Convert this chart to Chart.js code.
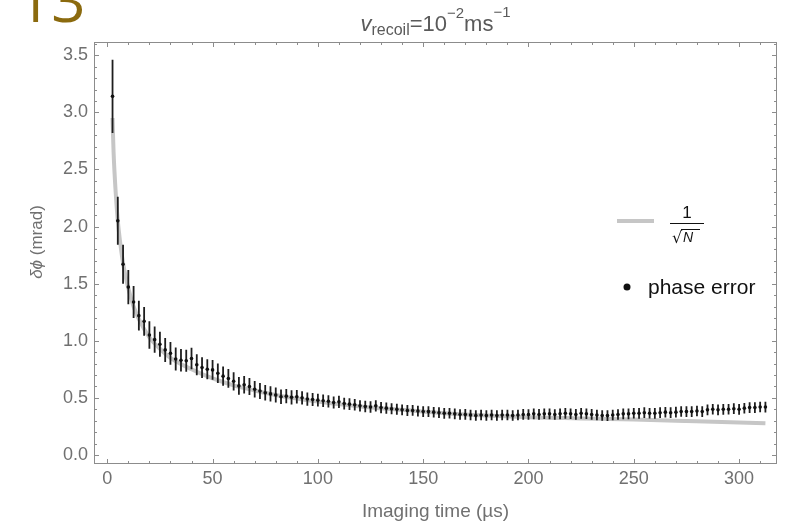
<!DOCTYPE html>
<html>
<head>
<meta charset="utf-8">
<title>Phase error vs imaging time</title>
<script src="https://cdn.jsdelivr.net/npm/chart.js@4.4.1/dist/chart.umd.min.js"></script>
<style>
  body { margin: 0; background: #ffffff; }
  #wrap { width: 785px; height: 525px; }
</style>
</head>
<body>
<div id="wrap"><canvas id="grafico" width="785" height="525"></canvas></div>
<script>
// 1. Data
const times = [
  2.5, 5, 7.5, 10, 12.5, 15, 17.5, 20, 22.5, 25,
  27.5, 30, 32.5, 35, 37.5, 40, 42.5, 45, 47.5, 50,
  52.5, 55, 57.5, 60, 62.5, 65, 67.5, 70, 72.5, 75,
  77.5, 80, 82.5, 85, 87.5, 90, 92.5, 95, 97.5, 100,
  102.5, 105, 107.5, 110, 112.5, 115, 117.5, 120, 122.5, 125,
  127.5, 130, 132.5, 135, 137.5, 140, 142.5, 145, 147.5, 150,
  152.5, 155, 157.5, 160, 162.5, 165, 167.5, 170, 172.5, 175,
  177.5, 180, 182.5, 185, 187.5, 190, 192.5, 195, 197.5, 200,
  202.5, 205, 207.5, 210, 212.5, 215, 217.5, 220, 222.5, 225,
  227.5, 230, 232.5, 235, 237.5, 240, 242.5, 245, 247.5, 250,
  252.5, 255, 257.5, 260, 262.5, 265, 267.5, 270, 272.5, 275,
  277.5, 280, 282.5, 285, 287.5, 290, 292.5, 295, 297.5, 300,
  302.5, 305, 307.5, 310, 312.5
];
const phaseError = [
  3.14, 2.05, 1.67, 1.47, 1.34, 1.22, 1.17, 1.05, 1.01, 0.97,
  0.92, 0.89, 0.84, 0.83, 0.825, 0.845, 0.79, 0.765, 0.75, 0.745,
  0.715, 0.69, 0.67, 0.645, 0.605, 0.615, 0.60, 0.575, 0.56, 0.545,
  0.535, 0.525, 0.51, 0.515, 0.505, 0.51, 0.50, 0.49, 0.485, 0.48,
  0.475, 0.47, 0.46, 0.465, 0.45, 0.445, 0.44, 0.43, 0.425, 0.42,
  0.43, 0.415, 0.41, 0.405, 0.40, 0.395, 0.39, 0.39, 0.385, 0.38,
  0.38, 0.375, 0.37, 0.365, 0.365, 0.36, 0.355, 0.355, 0.35, 0.345,
  0.35, 0.345, 0.35, 0.345, 0.35, 0.35, 0.345, 0.35, 0.355, 0.355,
  0.36, 0.355, 0.36, 0.36, 0.355, 0.36, 0.365, 0.36, 0.355, 0.365,
  0.36, 0.355, 0.35, 0.345, 0.345, 0.35, 0.355, 0.36, 0.36, 0.365,
  0.365, 0.37, 0.365, 0.365, 0.37, 0.375, 0.37, 0.375, 0.38, 0.38,
  0.38, 0.385, 0.38, 0.395, 0.40, 0.395, 0.40, 0.40, 0.405, 0.40,
  0.41, 0.415, 0.415, 0.42, 0.42
];
const errorBar = [
  0.32, 0.21, 0.17, 0.15, 0.14, 0.13, 0.125, 0.12, 0.115, 0.11,
  0.105, 0.10, 0.10, 0.098, 0.096, 0.094, 0.092, 0.09, 0.088, 0.087,
  0.085, 0.084, 0.082, 0.08, 0.078, 0.076, 0.074, 0.072, 0.07, 0.068,
  0.066, 0.065, 0.064, 0.063, 0.062, 0.06, 0.059, 0.058, 0.057, 0.056,
  0.055, 0.054, 0.053, 0.053, 0.052, 0.051, 0.051, 0.05, 0.05, 0.05,
  0.049, 0.049, 0.049, 0.048, 0.048, 0.048, 0.048, 0.047, 0.047, 0.047,
  0.047, 0.046, 0.047, 0.047, 0.046, 0.047, 0.046, 0.047, 0.047, 0.046,
  0.047, 0.046, 0.047, 0.046, 0.047, 0.047, 0.046, 0.047, 0.047, 0.046,
  0.047, 0.047, 0.046, 0.047, 0.046, 0.047, 0.047, 0.046, 0.047, 0.047,
  0.046, 0.047, 0.047, 0.046, 0.047, 0.047, 0.046, 0.047, 0.047, 0.046,
  0.047, 0.047, 0.046, 0.047, 0.047, 0.046, 0.047, 0.047, 0.046, 0.047,
  0.047, 0.046, 0.047, 0.047, 0.046, 0.047, 0.047, 0.046, 0.047, 0.047,
  0.046, 0.047, 0.047, 0.046, 0.047
];
// gray 1/sqrt(N) curve
const curveTimes = [2.5, 3, 4, 5, 6, 7.5, 10, 12.5, 15, 20, 25, 30, 40, 50, 60, 70, 80,
  100, 120, 140, 160, 180, 200, 225, 250, 275, 300, 312.5];
const curveValues = [2.95, 2.65, 2.3, 2.05, 1.88, 1.68, 1.46, 1.3, 1.19, 1.03, 0.93, 0.85, 0.75, 0.67, 0.61, 0.565, 0.525,
  0.467, 0.425, 0.395, 0.365, 0.345, 0.33, 0.32, 0.31, 0.298, 0.285, 0.277];

const xTicks = [0, 50, 100, 150, 200, 250, 300];
const yTicks = [0, 0.5, 1.0, 1.5, 2.0, 2.5, 3.0, 3.5];

const FONT = '"Liberation Sans", Arial, sans-serif';

// 2. Frame with inward ticks on all four sides (Mathematica style)
const framePlugin = {
  id: 'frame',
  afterDraw(chart) {
    const { ctx, chartArea: a, scales: { x, y } } = chart;
    ctx.save();
    ctx.strokeStyle = '#8c8c8c';
    ctx.lineWidth = 1;
    ctx.strokeRect(a.left + 0.5, a.top + 0.5, a.right - a.left - 1, a.bottom - a.top - 1);
    ctx.beginPath();
    for (let v = 0; v <= x.max; v += 10) {
      const px = Math.round(x.getPixelForValue(v)) + 0.5;
      const len = v % 50 === 0 ? 5 : 3;
      ctx.moveTo(px, a.bottom); ctx.lineTo(px, a.bottom - len);
      ctx.moveTo(px, a.top); ctx.lineTo(px, a.top + len);
    }
    for (let k = 0; k / 10 <= y.max; k++) {
      const py = Math.round(y.getPixelForValue(k / 10)) + 0.5;
      const len = k % 5 === 0 ? 5 : 3;
      ctx.moveTo(a.left, py); ctx.lineTo(a.left + len, py);
      ctx.moveTo(a.right, py); ctx.lineTo(a.right - len, py);
    }
    ctx.stroke();
    ctx.restore();
  }
};

// 3. Error bars, drawn just before the points
const errorBarPlugin = {
  id: 'errorBars',
  beforeDatasetDraw(chart, args) {
    if (args.index !== 0) return;
    const { ctx, scales: { x, y } } = chart;
    ctx.save();
    ctx.strokeStyle = '#1e1e1e';
    ctx.lineWidth = 1.8;
    ctx.beginPath();
    times.forEach((t, i) => {
      const px = x.getPixelForValue(t);
      ctx.moveTo(px, y.getPixelForValue(phaseError[i] + errorBar[i]));
      ctx.lineTo(px, y.getPixelForValue(phaseError[i] - errorBar[i]));
    });
    ctx.stroke();
    ctx.restore();
  }
};

// 4. Texts: page number, title with sub/superscripts, y title, legend
const textPlugin = {
  id: 'texts',
  afterDraw(chart) {
    const { ctx, chartArea: a } = chart;
    ctx.save();

    // page number cut at the top
    ctx.fillStyle = '#8b6a0e';
    ctx.font = '60px "Open Sans", sans-serif';
    ctx.textBaseline = 'alphabetic';
    ctx.textAlign = 'left';
    ctx.fillText('13', 17, 22);

    // title  v_recoil = 10^-2 ms^-1
    const parts = [
      { t: 'v', f: 'italic 22px ' + FONT, dy: 0 },
      { t: 'recoil', f: '16px ' + FONT, dy: 4 },
      { t: '=10', f: '22px ' + FONT, dy: 0 },
      { t: '\u22122', f: '15px ' + FONT, dy: -13 },
      { t: 'ms', f: '22px ' + FONT, dy: 0 },
      { t: '\u22121', f: '15px ' + FONT, dy: -14 }
    ];
    let total = 0;
    parts.forEach(p => { ctx.font = p.f; p.w = ctx.measureText(p.t).width; total += p.w; });
    let cx = (a.left + a.right) / 2 - total / 2;
    ctx.fillStyle = '#5a5a5a';
    parts.forEach(p => {
      ctx.font = p.f;
      ctx.fillText(p.t, cx, 31 + p.dy);
      cx += p.w;
    });

    // y axis title
    ctx.save();
    ctx.translate(37, 242);
    ctx.rotate(-Math.PI / 2);
    ctx.fillStyle = '#707070';
    ctx.textBaseline = 'middle';
    ctx.font = 'italic 17px ' + FONT;
    const w1 = ctx.measureText('\u03b4\u03d5').width;
    ctx.font = '17px ' + FONT;
    const w2 = ctx.measureText(' (mrad)').width;
    let sx = -(w1 + w2) / 2;
    ctx.font = 'italic 17px ' + FONT;
    ctx.fillText('\u03b4\u03d5', sx, 0);
    ctx.font = '17px ' + FONT;
    ctx.fillText(' (mrad)', sx + w1, 0);
    ctx.restore();

    // legend: gray line with 1/sqrt(N)
    ctx.strokeStyle = '#c6c6c6';
    ctx.lineWidth = 4;
    ctx.beginPath();
    ctx.moveTo(617, 221); ctx.lineTo(654, 221);
    ctx.stroke();

    ctx.fillStyle = '#111111';
    ctx.strokeStyle = '#111111';
    ctx.textAlign = 'center';
    ctx.font = '17px ' + FONT;
    ctx.fillText('1', 687, 218);
    ctx.lineWidth = 1.2;
    ctx.beginPath();
    ctx.moveTo(670, 223.5); ctx.lineTo(704, 223.5);
    ctx.stroke();
    ctx.textAlign = 'left';
    ctx.font = '16px "DejaVu Sans", sans-serif';
    ctx.fillText('\u221a', 672, 243);
    ctx.font = 'italic 14px ' + FONT;
    ctx.fillText('N', 683, 242);
    ctx.lineWidth = 1;
    ctx.beginPath();
    ctx.moveTo(681, 229.5); ctx.lineTo(700, 229.5);
    ctx.stroke();

    // legend: phase error dot
    ctx.beginPath();
    ctx.arc(627, 287, 3.5, 0, Math.PI * 2);
    ctx.fill();
    ctx.font = '21px ' + FONT;
    ctx.textBaseline = 'middle';
    ctx.fillText('phase error', 648, 288);

    ctx.restore();
  }
};

// 5. The chart
const contexto = document.getElementById('grafico').getContext('2d');
const grafico = new Chart(contexto, {
  type: 'scatter',
  data: {
    datasets: [
      {
        label: 'phase error',
        data: times.map((t, i) => ({ x: t, y: phaseError[i] })),
        pointRadius: 1.8,
        pointBackgroundColor: '#111111',
        pointBorderWidth: 0
      },
      {
        label: '1/\u221aN',
        data: curveTimes.map((t, i) => ({ x: t, y: curveValues[i] })),
        showLine: true,
        pointRadius: 0,
        borderColor: '#c6c6c6',
        borderWidth: 4,
        cubicInterpolationMode: 'monotone'
      }
    ]
  },
  options: {
    responsive: false,
    animation: false,
    layout: { padding: { left: 0, right: 8, top: 42, bottom: 0 } },
    plugins: {
      legend: { display: false },
      tooltip: { enabled: false }
    },
    scales: {
      x: {
        type: 'linear',
        min: -6.3,
        max: 318,
        afterBuildTicks: s => { s.ticks = xTicks.map(v => ({ value: v })); },
        afterFit: s => { s.height = 61; },
        grid: { display: false, drawTicks: false },
        border: { display: false },
        ticks: { padding: 4, color: '#707070', font: { family: FONT, size: 18 } },
        title: {
          display: true,
          text: 'Imaging time (\u00b5s)',
          color: '#707070',
          font: { family: FONT, size: 19 },
          padding: { top: 0, bottom: 2 }
        }
      },
      y: {
        type: 'linear',
        min: -0.079,
        max: 3.616,
        afterBuildTicks: s => { s.ticks = yTicks.map(v => ({ value: v })); },
        afterFit: s => { s.width = 94; },
        grid: { display: false, drawTicks: false },
        border: { display: false },
        ticks: {
          padding: 6,
          color: '#707070',
          font: { family: FONT, size: 18 },
          callback: v => v.toFixed(1)
        }
      }
    }
  },
  plugins: [framePlugin, errorBarPlugin, textPlugin]
});
</script>
</body>
</html>
